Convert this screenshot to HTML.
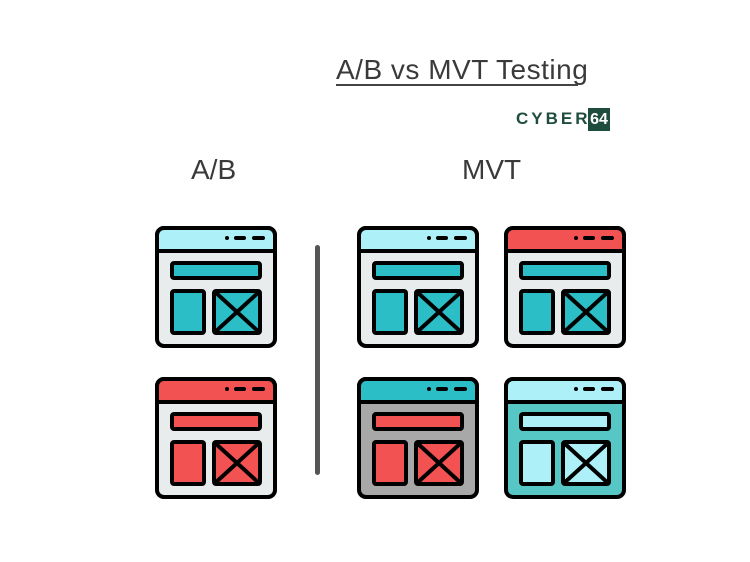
<!DOCTYPE html>
<html><head><style>
body{margin:0;width:750px;height:562px;background:#fff;position:relative;overflow:hidden;font-family:"Liberation Sans",sans-serif;}
.t{position:absolute;color:#3a3a3a;white-space:nowrap;}
svg.i{position:absolute;width:122px;height:122px;}
</style></head><body>
<div class="t" style="left:336px;top:54px;font-size:28px;letter-spacing:0.5px;">A/B vs MVT Testing</div>
<div style="position:absolute;left:336px;top:84px;width:242px;height:2px;background:#444;"></div>
<div class="t" style="left:516px;top:109px;font-size:17px;font-weight:bold;color:#1e4d3e;letter-spacing:3px;">CYBER</div>
<div class="t" style="left:588px;top:108px;width:22px;height:23px;background:#1e4d3e;color:#fff;font-size:16px;font-weight:bold;text-align:center;line-height:23px;">64</div>
<div class="t" style="left:191px;top:154px;font-size:28px;">A/B</div>
<div class="t" style="left:462px;top:154px;font-size:28px;">MVT</div>
<div style="position:absolute;left:315px;top:245px;width:5px;height:230px;background:#555;border-radius:3px;"></div>
<svg width="0" height="0" style="position:absolute">
<defs>
<g id="ic">
</g>
</defs>
</svg>
<!-- icon template via function-like repetition -->
<svg class="i" style="left:155px;top:226px" viewBox="0 0 122 122"><rect x="2" y="2" width="118" height="118" rx="7" fill="#e8eced" stroke="#000" stroke-width="4"/><path d="M2 25V9a7 7 0 0 1 7-7h104a7 7 0 0 1 7 7v16z" fill="#aef0f8" stroke="#000" stroke-width="4"/><circle cx="72" cy="12" r="2" fill="#000"/><rect x="79" y="10" width="12" height="4" rx="2"/><rect x="97" y="10" width="13" height="4" rx="2"/><rect x="17" y="37" width="88" height="15" fill="#2bbec6" stroke="#000" stroke-width="4" rx="2"/><rect x="17" y="65" width="32" height="42" fill="#2bbec6" stroke="#000" stroke-width="4" rx="2"/><rect x="59" y="65" width="46" height="42" fill="#2bbec6" stroke="#000" stroke-width="4" rx="2"/><path d="M59 65L105 107M105 65L59 107" stroke="#000" stroke-width="4"/></svg>
<svg class="i" style="left:155px;top:377px" viewBox="0 0 122 122"><rect x="2" y="2" width="118" height="118" rx="7" fill="#e8eced" stroke="#000" stroke-width="4"/><path d="M2 25V9a7 7 0 0 1 7-7h104a7 7 0 0 1 7 7v16z" fill="#f25252" stroke="#000" stroke-width="4"/><circle cx="72" cy="12" r="2" fill="#000"/><rect x="79" y="10" width="12" height="4" rx="2"/><rect x="97" y="10" width="13" height="4" rx="2"/><rect x="17" y="37" width="88" height="15" fill="#f25252" stroke="#000" stroke-width="4" rx="2"/><rect x="17" y="65" width="32" height="42" fill="#f25252" stroke="#000" stroke-width="4" rx="2"/><rect x="59" y="65" width="46" height="42" fill="#f25252" stroke="#000" stroke-width="4" rx="2"/><path d="M59 65L105 107M105 65L59 107" stroke="#000" stroke-width="4"/></svg>
<svg class="i" style="left:357px;top:226px" viewBox="0 0 122 122"><rect x="2" y="2" width="118" height="118" rx="7" fill="#e8eced" stroke="#000" stroke-width="4"/><path d="M2 25V9a7 7 0 0 1 7-7h104a7 7 0 0 1 7 7v16z" fill="#aef0f8" stroke="#000" stroke-width="4"/><circle cx="72" cy="12" r="2" fill="#000"/><rect x="79" y="10" width="12" height="4" rx="2"/><rect x="97" y="10" width="13" height="4" rx="2"/><rect x="17" y="37" width="88" height="15" fill="#2bbec6" stroke="#000" stroke-width="4" rx="2"/><rect x="17" y="65" width="32" height="42" fill="#2bbec6" stroke="#000" stroke-width="4" rx="2"/><rect x="59" y="65" width="46" height="42" fill="#2bbec6" stroke="#000" stroke-width="4" rx="2"/><path d="M59 65L105 107M105 65L59 107" stroke="#000" stroke-width="4"/></svg>
<svg class="i" style="left:504px;top:226px" viewBox="0 0 122 122"><rect x="2" y="2" width="118" height="118" rx="7" fill="#e8eced" stroke="#000" stroke-width="4"/><path d="M2 25V9a7 7 0 0 1 7-7h104a7 7 0 0 1 7 7v16z" fill="#f25252" stroke="#000" stroke-width="4"/><circle cx="72" cy="12" r="2" fill="#000"/><rect x="79" y="10" width="12" height="4" rx="2"/><rect x="97" y="10" width="13" height="4" rx="2"/><rect x="17" y="37" width="88" height="15" fill="#2bbec6" stroke="#000" stroke-width="4" rx="2"/><rect x="17" y="65" width="32" height="42" fill="#2bbec6" stroke="#000" stroke-width="4" rx="2"/><rect x="59" y="65" width="46" height="42" fill="#2bbec6" stroke="#000" stroke-width="4" rx="2"/><path d="M59 65L105 107M105 65L59 107" stroke="#000" stroke-width="4"/></svg>
<svg class="i" style="left:357px;top:377px" viewBox="0 0 122 122"><rect x="2" y="2" width="118" height="118" rx="7" fill="#a8a8a8" stroke="#000" stroke-width="4"/><path d="M2 25V9a7 7 0 0 1 7-7h104a7 7 0 0 1 7 7v16z" fill="#2bbec6" stroke="#000" stroke-width="4"/><circle cx="72" cy="12" r="2" fill="#000"/><rect x="79" y="10" width="12" height="4" rx="2"/><rect x="97" y="10" width="13" height="4" rx="2"/><rect x="17" y="37" width="88" height="15" fill="#f25252" stroke="#000" stroke-width="4" rx="2"/><rect x="17" y="65" width="32" height="42" fill="#f25252" stroke="#000" stroke-width="4" rx="2"/><rect x="59" y="65" width="46" height="42" fill="#f25252" stroke="#000" stroke-width="4" rx="2"/><path d="M59 65L105 107M105 65L59 107" stroke="#000" stroke-width="4"/></svg>
<svg class="i" style="left:504px;top:377px" viewBox="0 0 122 122"><rect x="2" y="2" width="118" height="118" rx="7" fill="#56c7c4" stroke="#000" stroke-width="4"/><path d="M2 25V9a7 7 0 0 1 7-7h104a7 7 0 0 1 7 7v16z" fill="#aef0f8" stroke="#000" stroke-width="4"/><circle cx="72" cy="12" r="2" fill="#000"/><rect x="79" y="10" width="12" height="4" rx="2"/><rect x="97" y="10" width="13" height="4" rx="2"/><rect x="17" y="37" width="88" height="15" fill="#aef0f8" stroke="#000" stroke-width="4" rx="2"/><rect x="17" y="65" width="32" height="42" fill="#aef0f8" stroke="#000" stroke-width="4" rx="2"/><rect x="59" y="65" width="46" height="42" fill="#aef0f8" stroke="#000" stroke-width="4" rx="2"/><path d="M59 65L105 107M105 65L59 107" stroke="#000" stroke-width="4"/></svg>
</body></html>
